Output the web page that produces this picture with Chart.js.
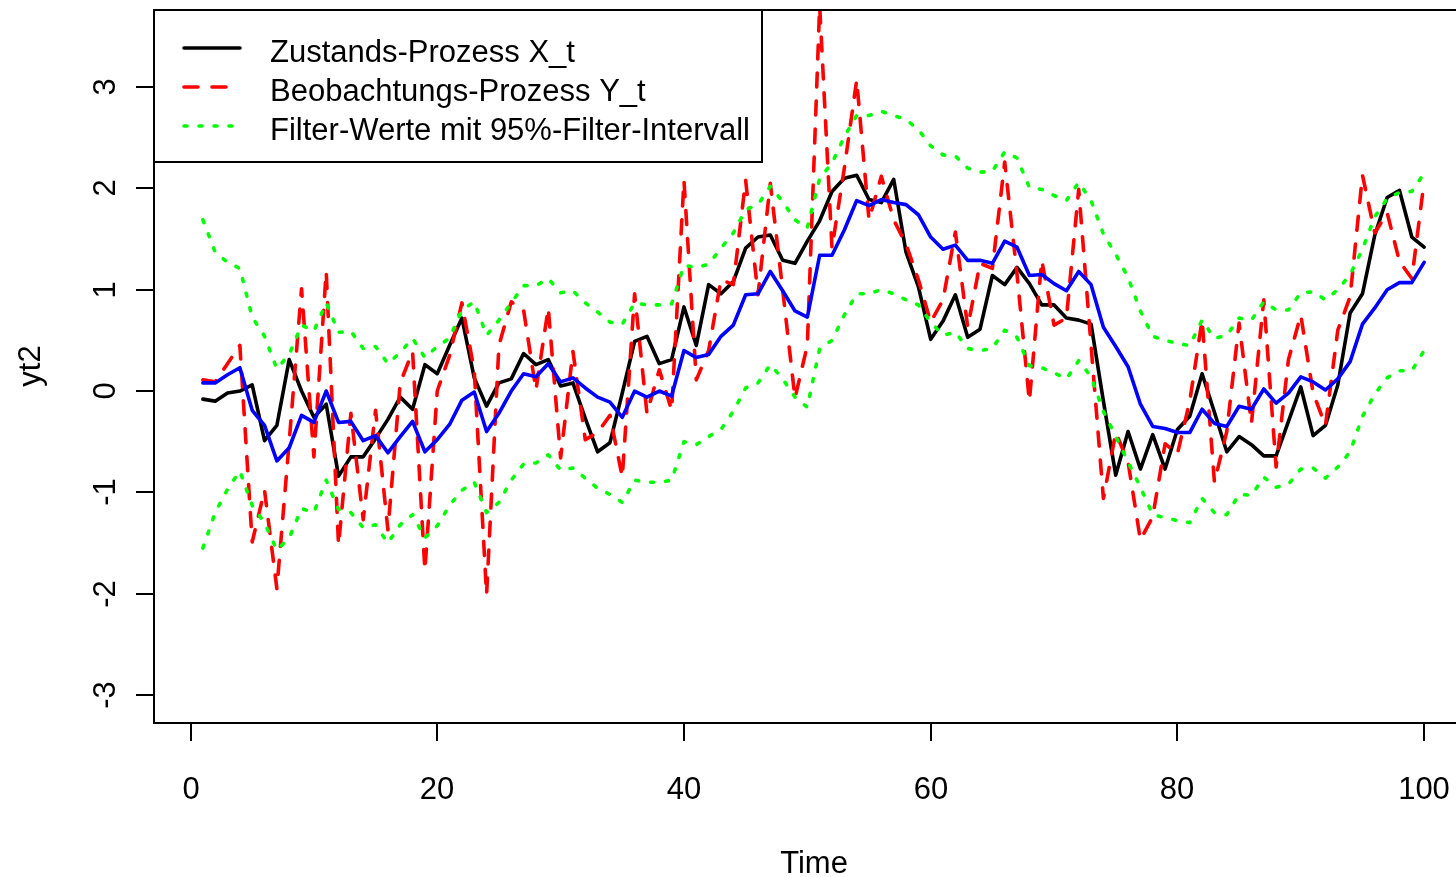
<!DOCTYPE html>
<html>
<head>
<meta charset="utf-8">
<script src="https://cdn.jsdelivr.net/npm/chart.js@4"></script>
<style>
html, body { margin: 0; padding: 0; overflow: hidden; background: #fff; }
#rahmen { width: 1480px; height: 877px; }
</style>
</head>
<body>
<div id="rahmen"><canvas id="zustandsraum" width="1480" height="877"></canvas></div>
<script>
//Daten
const zeit = Array.from({ length: 100 }, (_, i) => i + 1);
const zustandX = [
  -0.08, -0.10, -0.02, 0.00, 0.06, -0.49, -0.34, 0.31, 0.00, -0.26,
  -0.13, -0.84, -0.65, -0.65, -0.47, -0.28, -0.06, -0.18, 0.26, 0.17,
  0.45, 0.72, 0.13, -0.15, 0.08, 0.12, 0.37, 0.26, 0.31, 0.05,
  0.08, -0.27, -0.60, -0.51, -0.02, 0.49, 0.54, 0.27, 0.31, 0.83,
  0.45, 1.05, 0.96, 1.08, 1.41, 1.52, 1.54, 1.29, 1.26, 1.48,
  1.68, 1.97, 2.10, 2.13, 1.89, 1.86, 2.09, 1.37, 1.03, 0.51,
  0.69, 0.95, 0.53, 0.61, 1.14, 1.05, 1.22, 1.06, 0.85, 0.85,
  0.72, 0.70, 0.66, -0.10, -0.83, -0.40, -0.77, -0.43, -0.77, -0.38,
  -0.25, 0.17, -0.21, -0.60, -0.45, -0.53, -0.64, -0.64, -0.30, 0.04,
  -0.44, -0.34, 0.06, 0.77, 0.96, 1.54, 1.91, 1.98, 1.52, 1.42
];
const beobachtungY = [
  0.11, 0.09, 0.27, 0.45, -1.49, -0.98, -1.95, -0.50, 1.01, -0.65,
  1.18, -1.52, -0.22, -1.27, -0.19, -1.37, 0.08, 0.39, -1.77, 0.00,
  0.35, 0.87, 0.20, -2.01, 0.45, 0.88, 0.80, 0.01, 0.82, -0.66,
  0.39, -0.48, -0.41, -0.24, -0.85, 0.96, -0.22, 0.21, -0.19, 2.08,
  0.11, 0.40, 1.10, 1.05, 2.08, 0.95, 2.05, 1.00, -0.07, 0.45,
  3.80, 1.41, 2.20, 3.07, 1.69, 2.12, 1.69, 1.45, 1.10, 0.68,
  0.90, 1.57, 0.63, 1.26, 1.21, 2.26, 1.15, -0.10, 1.29, 0.65,
  0.72, 1.99, 0.45, -1.06, -0.41, -0.70, -1.47, -1.24, -0.52, -0.62,
  -0.10, 0.70, -0.90, -0.40, 0.67, -0.32, 0.90, -0.75, 0.31, 0.75,
  -0.02, -0.34, 0.60, 0.93, 2.13, 1.56, 1.76, 1.28, 1.11, 2.07
];
const filterWerte = [
  0.08, 0.08, 0.16, 0.23, -0.19, -0.34, -0.69, -0.56, -0.24, -0.31,
  0.00, -0.31, -0.30, -0.49, -0.44, -0.61, -0.45, -0.30, -0.60, -0.48,
  -0.33, -0.09, -0.01, -0.40, -0.22, 0.00, 0.17, 0.14, 0.27, 0.09,
  0.13, 0.03, -0.06, -0.11, -0.26, 0.00, -0.06, 0.00, -0.05, 0.40,
  0.33, 0.36, 0.54, 0.65, 0.95, 0.96, 1.18, 0.99, 0.79, 0.73,
  1.34, 1.34, 1.59, 1.88, 1.83, 1.89, 1.86, 1.84, 1.74, 1.52,
  1.40, 1.44, 1.29, 1.29, 1.26, 1.48, 1.42, 1.14, 1.15, 1.06,
  0.99, 1.18, 1.05, 0.63, 0.44, 0.24, -0.13, -0.35, -0.37, -0.41,
  -0.41, -0.18, -0.32, -0.35, -0.15, -0.18, 0.02, -0.12, -0.02, 0.14,
  0.09, 0.01, 0.12, 0.29, 0.66, 0.82, 1.00, 1.07, 1.07, 1.27
];
const obereGrenze = [
  1.69, 1.37, 1.27, 1.21, 0.73, 0.54, 0.22, 0.36, 0.65, 0.59,
  0.87, 0.58, 0.59, 0.42, 0.44, 0.27, 0.38, 0.52, 0.33, 0.44,
  0.52, 0.80, 0.88, 0.55, 0.70, 0.87, 1.04, 1.04, 1.11, 0.97,
  0.99, 0.87, 0.78, 0.68, 0.66, 0.87, 0.85, 0.85, 0.86, 1.24,
  1.22, 1.25, 1.41, 1.56, 1.79, 1.84, 2.02, 1.87, 1.69, 1.61,
  2.10, 2.25, 2.51, 2.72, 2.72, 2.76, 2.72, 2.68, 2.58, 2.42,
  2.33, 2.32, 2.20, 2.16, 2.17, 2.36, 2.30, 2.01, 1.99, 1.93,
  1.88, 2.06, 1.88, 1.55, 1.35, 1.12, 0.79, 0.54, 0.50, 0.47,
  0.45, 0.70, 0.52, 0.55, 0.72, 0.70, 0.88, 0.80, 0.80, 0.97,
  0.98, 0.90, 1.00, 1.15, 1.40, 1.72, 1.90, 1.96, 1.97, 2.15
];
const untereGrenze = [
  -1.55, -1.20, -0.97, -0.79, -1.13, -1.30, -1.57, -1.45, -1.16, -1.20,
  -0.88, -1.17, -1.20, -1.35, -1.32, -1.50, -1.32, -1.22, -1.45, -1.33,
  -1.13, -0.98, -0.90, -1.20, -1.10, -0.88, -0.72, -0.71, -0.63, -0.78,
  -0.76, -0.86, -0.96, -1.02, -1.10, -0.88, -0.90, -0.90, -0.88, -0.50,
  -0.53, -0.45, -0.38, -0.20, 0.03, 0.08, 0.26, 0.12, -0.06, -0.16,
  0.42, 0.50, 0.75, 0.96, 0.96, 1.00, 0.96, 0.90, 0.85, 0.68,
  0.55, 0.58, 0.42, 0.40, 0.42, 0.60, 0.53, 0.25, 0.23, 0.18,
  0.12, 0.30, 0.14, -0.20, -0.45, -0.70, -0.95, -1.22, -1.25, -1.28,
  -1.30, -1.06, -1.20, -1.22, -1.02, -1.03, -0.85, -0.95, -0.92, -0.77,
  -0.76, -0.86, -0.75, -0.60, -0.25, -0.03, 0.13, 0.20, 0.20, 0.40
];
const xTicks = [0, 20, 40, 60, 80, 100];
const yTicks = [-3, -2, -1, 0, 1, 2, 3];
const legendeTexte = ['Zustands-Prozess X_t', 'Beobachtungs-Prozess Y_t', 'Filter-Werte mit 95%-Filter-Intervall'];

const schrift = '31px "Liberation Sans", Arial, sans-serif';
const strichRot = [14, 14];
const punktGruen = [3, 12];

//Punkte für die lineare x-Achse
const punkte = werte => werte.map((v, i) => ({ x: zeit[i], y: v }));

/**
 * Zeichnet Rahmen, Achsen im R-Stil und die Legende
 */
const rStil = {
  id: 'rStil',
  afterDatasetsDraw(chart) {
    const { ctx, chartArea: a, scales: { x, y } } = chart;
    ctx.save();
    ctx.strokeStyle = '#000';
    ctx.fillStyle = '#000';
    ctx.lineWidth = 2;
    ctx.lineCap = 'butt';
    ctx.setLineDash([]);
    ctx.strokeRect(a.left, a.top, a.right - a.left, a.bottom - a.top);

    ctx.font = schrift;
    ctx.textAlign = 'center';
    ctx.textBaseline = 'middle';
    //x-Achse
    xTicks.forEach(v => {
      const px = Math.round(x.getPixelForValue(v));
      ctx.beginPath();
      ctx.moveTo(px, a.bottom);
      ctx.lineTo(px, a.bottom + 18);
      ctx.stroke();
      ctx.fillText(String(v), px, 790);
    });
    ctx.fillText('Time', 814, 864);
    //y-Achse
    yTicks.forEach(v => {
      const py = Math.round(y.getPixelForValue(v));
      ctx.beginPath();
      ctx.moveTo(a.left, py);
      ctx.lineTo(a.left - 18, py);
      ctx.stroke();
      ctx.save();
      ctx.translate(106, py);
      ctx.rotate(-Math.PI / 2);
      ctx.fillText(String(v), 0, 0);
      ctx.restore();
    });
    ctx.save();
    ctx.translate(31, 366);
    ctx.rotate(-Math.PI / 2);
    ctx.fillText('yt2', 0, 0);
    ctx.restore();

    //Legende
    ctx.fillStyle = '#fff';
    ctx.fillRect(a.left, a.top, 608, 152);
    ctx.strokeStyle = '#000';
    ctx.strokeRect(a.left, a.top, 608, 152);
    const stile = [
      { farbe: '#000000', dash: [] },
      { farbe: '#FF0000', dash: strichRot },
      { farbe: '#00FF00', dash: punktGruen }
    ];
    legendeTexte.forEach((t, i) => {
      const yy = 53 + i * 39;
      ctx.strokeStyle = stile[i].farbe;
      ctx.lineWidth = 3.6;
      ctx.lineCap = 'round';
      ctx.setLineDash(stile[i].dash);
      ctx.beginPath();
      ctx.moveTo(184, yy - 5);
      ctx.lineTo(240, yy - 5);
      ctx.stroke();
      ctx.fillStyle = '#000';
      ctx.textAlign = 'left';
      ctx.fillText(t, 270, yy);
    });
    ctx.restore();
  }
};

const serie = (label, werte, farbe, dash, order) => ({
  label: label,
  data: punkte(werte),
  borderColor: farbe,
  borderWidth: 3.6,
  borderDash: dash,
  borderCapStyle: 'round',
  borderJoinStyle: 'round',
  pointRadius: 0,
  tension: 0,
  fill: false,
  clip: 0,
  order: order
});

const grafik = new Chart(document.getElementById('zustandsraum').getContext('2d'), {
  type: 'line',
  data: {
    datasets: [
      serie(legendeTexte[0], zustandX, '#000000', [], 5),
      serie(legendeTexte[1], beobachtungY, '#FF0000', strichRot, 4),
      serie('Filter-Werte', filterWerte, '#0000FF', [], 3),
      serie('obere Grenze', obereGrenze, '#00FF00', punktGruen, 2),
      serie('untere Grenze', untereGrenze, '#00FF00', punktGruen, 1)
    ]
  },
  options: {
    responsive: false,
    animation: false,
    layout: { padding: { left: 154, top: 10, right: 7, bottom: 154 } },
    plugins: {
      legend: { display: false },
      tooltip: { enabled: false }
    },
    scales: {
      x: { type: 'linear', min: -2.96, max: 103.96, display: false },
      y: { type: 'linear', min: -3.277, max: 3.761, display: false }
    }
  },
  plugins: [rStil]
});
</script>
</body>
</html>
